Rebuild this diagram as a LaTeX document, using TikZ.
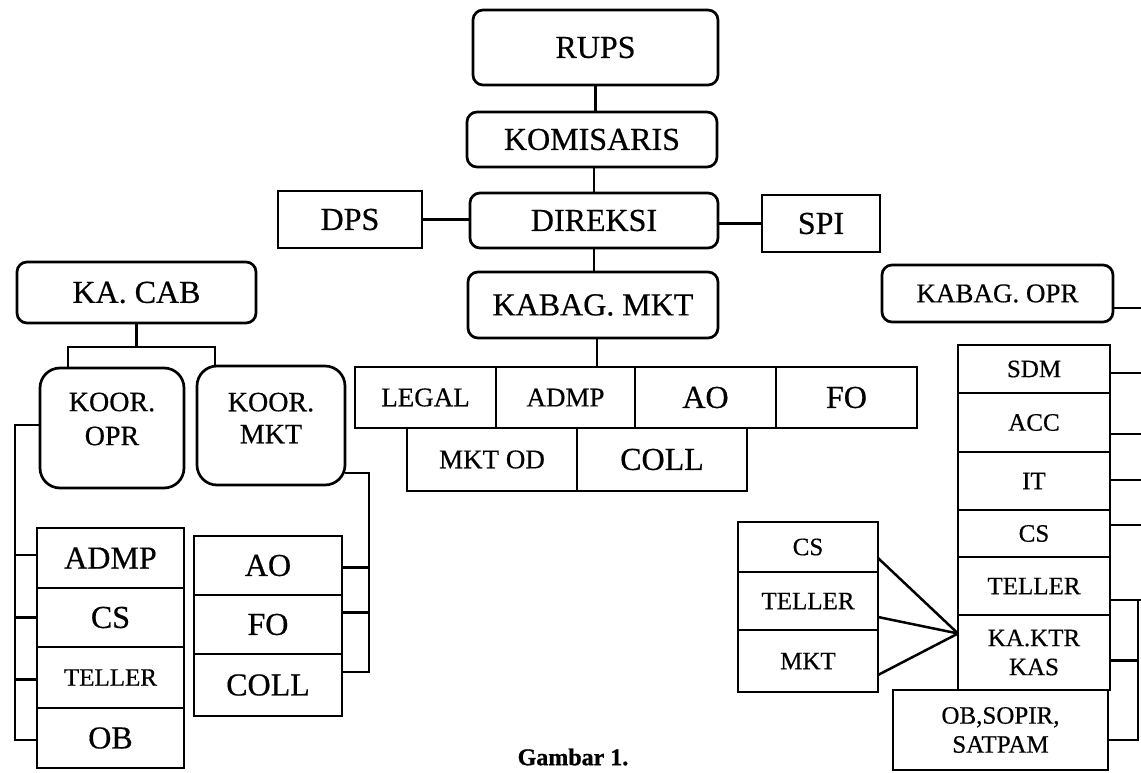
\documentclass[tikz,border=0pt]{standalone}
\usepackage{fontspec}
\setmainfont{Liberation Serif}
\newfontfamily\scanfont{Liberation Serif}[FakeBold=0.5]
\newfontfamily\capfont{Liberation Serif}[FakeBold=1.0]
\usetikzlibrary{calc}
\newcommand\obox[7]{%
  \pgfmathsetmacro\obcx{(#2+#4)/2}%
  \pgfmathsetmacro\obcy{(#3+#5)/2}%
  \pgfmathsetmacro\obw{#4-#2}%
  \pgfmathsetmacro\obh{#5-#3}%
  \node[#6, minimum width=\obw pt, minimum height=\obh pt] (#1) at (\obcx,\obcy) {#7};%
}
\tikzset{
  every node/.style={inner sep=0pt, outer sep=0pt},
  rbox/.style={draw, rounded corners=10pt, line width=2.7pt},
  kbox/.style={draw, rounded corners=20pt, line width=2.7pt},
  sbox/.style={draw, line width=2.7pt},
  conn/.style={line width=2.5pt},
  fL/.style={font=\scanfont\fontsize{32}{34}\selectfont},
  fM/.style={font=\scanfont\fontsize{27}{30}\selectfont},
  fS/.style={font=\scanfont\fontsize{25}{29}\selectfont},
}
\begin{document}
\begin{tikzpicture}[x=1pt,y=-1pt]
\fill[white] (0,0) rectangle (1141,773);
\useasboundingbox (0,0) rectangle (1141,773);

% top
\obox{rups}{473}{10}{718}{85}{rbox,fL}{RUPS}
\obox{kom}{467}{112}{717}{167}{rbox,fL}{KOMISARIS}
\obox{dir}{470}{193}{718}{248}{rbox,fL}{DIREKSI}
\obox{dps}{278}{191}{422}{248}{sbox,fL}{DPS}
\obox{spi}{762}{195}{880}{252}{sbox,fL}{SPI}
\obox{kmkt}{468}{272}{718}{338}{rbox,fL}{KABAG. MKT}
\obox{kopr}{882}{265}{1113}{322}{rbox,fM}{KABAG. OPR}
\obox{kacab}{17}{262}{256}{323}{rbox,fL}{KA. CAB}
\obox{koopr}{40}{368}{184}{488}{kbox}{}
\obox{koomkt}{197}{366}{345}{485}{kbox}{}
\node[font=\scanfont\fontsize{28}{34}\selectfont, align=center] (kooprt) at (112,419) {KOOR.\\OPR};
\node[font=\scanfont\fontsize{28}{32}\selectfont, align=center] (koomktt) at (271,418) {KOOR.\\MKT};

% middle block
\obox{legal}{355}{367}{496}{428}{sbox,fM}{LEGAL}
\obox{admp}{496}{367}{635}{428}{sbox,fM}{ADMP}
\obox{ao}{635}{367}{776}{428}{sbox,fL}{AO}
\obox{fo}{776}{367}{917}{428}{sbox,fL}{FO}
\obox{mktod}{407}{428}{577}{491}{sbox,fM}{MKT OD}
\obox{coll}{577}{428}{747}{491}{sbox,fL}{COLL}

% left stacks
\obox{ladmp}{37}{528}{184}{588}{sbox,fL}{ADMP}
\obox{lcs}{37}{588}{184}{647}{sbox,fL}{CS}
\obox{ltel}{37}{647}{184}{708}{sbox,fS}{TELLER}
\obox{lob}{37}{708}{184}{768}{sbox,fL}{OB}
\obox{lao}{194}{536}{342}{595}{sbox,fL}{AO}
\obox{lfo}{194}{595}{342}{654}{sbox,fL}{FO}
\obox{lcoll}{194}{654}{342}{716}{sbox,fL}{COLL}

% right stack
\obox{sdm}{958}{345}{1110}{393}{sbox,fS}{SDM}
\obox{acc}{958}{393}{1110}{452}{sbox,fS}{ACC}
\obox{it}{958}{452}{1110}{510}{sbox,fS}{IT}
\obox{rcs}{958}{510}{1110}{557}{sbox,fS}{CS}
\obox{rtel}{958}{557}{1110}{615}{sbox,fS}{TELLER}
\obox{kaktr}{958}{615}{1110}{690}{sbox,fS,align=center}{KA.KTR\\KAS}
\obox{obs}{893}{690}{1108}{770}{sbox,fS,align=center}{OB,SOPIR,\\SATPAM}

% middle-right stack
\obox{mcs}{738}{522}{878}{572}{sbox,fS}{CS}
\obox{mtel}{738}{572}{878}{630}{sbox,fS}{TELLER}
\obox{mmkt}{738}{630}{878}{692}{sbox,fS}{MKT}

% caption
\node[font=\capfont\bfseries\fontsize{24}{26}\selectfont] (cap) at (573,757) {Gambar 1.};

% connectors top
\draw[conn] (rups.south) -- (rups.south |- kom.north);
\draw[conn] (dir.north) -- (dir.north |- kom.south);
\draw[conn] (dps.east) -- (dps.east -| dir.west);
\draw[conn] (spi.west) -- (spi.west -| dir.east);
\draw[conn] (dir.south) -- (dir.south |- kmkt.north);
\draw[conn] ([xshift=4pt]kmkt.south) -- ([xshift=4pt]kmkt.south |- admp.north);

% right side lines to the edge
\coordinate (eopr) at (1141,308);
\coordinate (e1) at (1141,373);
\coordinate (e2) at (1141,434);
\coordinate (e3) at (1141,480);
\coordinate (e4) at (1141,525);
\coordinate (e5) at (1141,600);
\coordinate (rb) at (1138,600);
\draw[conn] (eopr -| kopr.east) -- (eopr);
\draw[conn] (e1 -| sdm.east) -- (e1);
\draw[conn] (e2 -| acc.east) -- (e2);
\draw[conn] (e3 -| it.east) -- (e3);
\draw[conn] (e4 -| rcs.east) -- (e4);
\draw[conn] (e5 -| rtel.east) -- (e5);
\draw[conn] (rb) |- ([yshift=-10pt]obs.east);
\draw[conn] ([yshift=-8pt]kaktr.east) -- ([yshift=-8pt]kaktr.east -| rb);

% fan to KA.KTR
\path (kaktr.west) ++(0,-19) coordinate (fan);
\draw[conn] ([yshift=-11pt]mcs.east) -- (fan);
\draw[conn] ([yshift=-16pt]mtel.east) -- (fan);
\draw[conn] ([yshift=-14pt]mmkt.east) -- (fan);

% KA. CAB tree
\coordinate (kcj) at ($(kacab.south)+(0,24)$);
\draw[conn] (kacab.south) -- (kcj);
\draw[conn] ([xshift=-44pt]koopr.north) |- (kcj) -| ([xshift=-56pt]koomkt.north);

% left bus from KOOR. OPR
\coordinate (lb) at ($(koopr.west)+(-25,-3)$);
\draw[conn] ([yshift=3pt]koopr.west) -- (lb) |- ([yshift=-2pt]lob.west);
\draw[conn] ([yshift=3pt]ladmp.west) -- ([yshift=3pt]ladmp.west -| lb);
\draw[conn] (lcs.west) -- (lcs.west -| lb);
\draw[conn] ([yshift=-2pt]ltel.west) -- ([yshift=-2pt]ltel.west -| lb);

% right bus from KOOR. MKT
\coordinate (mb) at ($(koomkt.south east)+(24,-12)$);
\draw[conn] ([yshift=12pt]koomkt.south east) -- (mb) |- ([yshift=13pt]lcoll.east);
\draw[conn] ([yshift=-2pt]lao.east) -- ([yshift=-2pt]lao.east -| mb);
\draw[conn] ([yshift=12pt]lfo.east) -- ([yshift=12pt]lfo.east -| mb);
\end{tikzpicture}
\end{document}
